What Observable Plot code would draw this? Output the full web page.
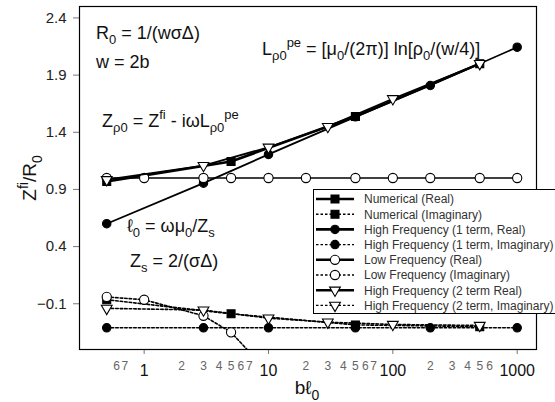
<!DOCTYPE html>
<html>
<head>
<meta charset="utf-8">
<script src="https://cdn.jsdelivr.net/npm/d3@7"></script>
<script src="https://cdn.jsdelivr.net/npm/@observablehq/plot@0.6"></script>
<style>
  html, body { margin: 0; padding: 0; background: #fff; overflow: hidden; }
  #chart { width: 555px; height: 402px; overflow: hidden; }
</style>
</head>
<body>
<div id="chart"></div>
<script>
// Normalised impedance Z^fi/R0 versus b·ℓ0, real and imaginary parts
const numX    = [0.5, 5, 50, 500];
const numReal = [0.97, 1.144, 1.538, 2.0];
const numImag = [-0.065, -0.188, -0.285, -0.30];

const hf1X    = [0.5, 3, 10, 50, 200, 1000];
const hf1Real = [0.60, 0.955, 1.206, 1.535, 1.809, 2.144];
const hf1Imag = [-0.31, -0.31, -0.31, -0.31, -0.31, -0.31];

const lfX     = [0.5, 1, 3, 5, 10, 20, 50, 100, 200, 500, 1000];
const lfReal  = [1.0, 1.0, 1.0, 1.0, 1.0, 1.0, 1.0, 1.0, 1.0, 1.0, 1.0];
const lfImagX = [0.5, 1, 3, 5, 10];
const lfImag  = [-0.04, -0.065, -0.205, -0.35, -0.70];

const hf2X    = [0.5, 3, 10, 30, 100, 500];
const hf2Real = [0.985, 1.109, 1.269, 1.45, 1.693, 2.0];
const hf2Imag = [-0.14, -0.155, -0.226, -0.261, -0.281, -0.29];

const yTicks     = [-0.1, 0.4, 0.9, 1.4, 1.9, 2.4];
const xMajor     = [1, 10, 100, 1000];
const xMinor     = [0.6, 0.7, 2, 3, 4, 5, 6, 7, 20, 30, 40, 50, 60, 70, 200, 300, 400, 500, 600];
const xMinorText = ["6", "7", "2", "3", "4", "5", "6", "7", "2", "3", "4", "5", "6", "7", "2", "3", "4", "5", "6"];

const legendLabels = [
  "Numerical (Real)",
  "Numerical (Imaginary)",
  "High Frequency (1 term, Real)",
  "High Frequency (1 term, Imaginary)",
  "Low Frequency (Real)",
  "Low Frequency (Imaginary)",
  "High Frequency (2 term Real)",
  "High Frequency (2 term, Imaginary)"
];

// downward-pointing triangle for the two-term series
const triangleDown = {
  draw(ctx, size) {
    const s = Math.sqrt(4 * size / Math.sqrt(3));
    const h = s * Math.sqrt(3) / 2;
    ctx.moveTo(-s / 2, -h / 3);
    ctx.lineTo(s / 2, -h / 3);
    ctx.lineTo(0, 2 * h / 3);
    ctx.closePath();
  }
};

const zip = (xs, ys) => xs.map((x, i) => ({x, y: ys[i]}));

const series = [
  {real: zip(numX, numReal), imag: zip(numX, numImag), symbol: "square", fill: "black", r: 4.5, width: 2.6},
  {real: zip(hf1X, hf1Real), imag: zip(hf1X, hf1Imag), symbol: "circle", fill: "black", r: 4.2, width: 1.8},
  {real: zip(lfX, lfReal), imag: zip(lfImagX, lfImag), symbol: "circle", fill: "white", r: 4.6, width: 1.3},
  {real: zip(hf2X, hf2Real), imag: zip(hf2X, hf2Imag), symbol: triangleDown, fill: "white", r: 4.0, width: 1.8}
];

const DASH = "2.5,2";
const marks = [];
for (const s of series) {
  marks.push(Plot.line(s.real, {x: "x", y: "y", stroke: "black", strokeWidth: s.width, clip: true}));
  marks.push(Plot.line(s.imag, {x: "x", y: "y", stroke: "black", strokeWidth: 1.6, strokeDasharray: DASH, clip: true}));
  for (const d of [s.real, s.imag]) {
    marks.push(Plot.dot(d, {x: "x", y: "y", symbol: () => s.symbol, r: s.r, fill: s.fill,
      stroke: "black", strokeWidth: 1.1, clip: true}));
  }
}

const plot = Plot.plot({
  width: 555,
  height: 402,
  marginLeft: 79,
  marginRight: 19,
  marginTop: 6,
  marginBottom: 53,
  style: {fontFamily: "'Liberation Sans', Arial, sans-serif", background: "white"},
  x: {type: "log", domain: [0.302, 1430]},
  y: {domain: [-0.5, 2.5]},
  symbol: {type: "identity"},
  marks: [
    Plot.axisY({ticks: yTicks, tickFormat: d3.format(".1f"), tickSize: 6, tickPadding: 7,
      fontSize: 15, stroke: "#777", fill: "#222", label: null}),
    Plot.axisX({ticks: xMajor, tickFormat: d => String(d), tickSize: 5, tickPadding: 10,
      fontSize: 16, stroke: "#777", fill: "#111", label: null}),
    // intermediate decade labels, printed without tick marks
    Plot.text(xMinor, {x: d => d, text: (d, i) => xMinorText[i], frameAnchor: "bottom", dy: 20,
      fontSize: 12, fill: "#666"}),
    ...marks,
    Plot.frame({stroke: "black", strokeWidth: 1.2})
  ]
});

document.getElementById("chart").appendChild(plot);

const svg = d3.select(plot);
const FONT = "'Liberation Sans', Arial, sans-serif";

// text with sub/superscript runs
function rich(parent, x, y, parts, size, opts = {}) {
  const t = parent.append("text")
    .attr("x", x).attr("y", y)
    .attr("font-family", FONT)
    .attr("font-size", size)
    .attr("text-anchor", opts.anchor || "start")
    .attr("fill", opts.fill || "#111");
  if (opts.transform) t.attr("transform", opts.transform);
  const small = Math.round(size * 0.72);
  let shift = 0;
  for (const [str, kind] of parts) {
    const target = kind === "sub" ? size * 0.3 : kind === "sup" ? -size * 0.42 : 0;
    t.append("tspan")
      .attr("dy", target - shift)
      .attr("font-size", kind ? small : size)
      .text(str);
    shift = target;
  }
  return t;
}

// formulas
const F = 18;
rich(svg, 96, 39, [["R"], ["0", "sub"], [" = 1/(wσΔ)"]], F);
rich(svg, 96, 68, [["w = 2b"]], F);
rich(svg, 102, 127, [["Z"], ["ρ0", "sub"], [" = Z"], ["fi", "sup"], [" - iωL"], ["ρ0", "sub"], ["pe", "sup"]], F);
rich(svg, 262, 55, [["L"], ["ρ0", "sub"], ["pe", "sup"], [" = [μ"], ["0", "sub"], ["/(2π)] ln[ρ"], ["0", "sub"], ["/(w/4)]"]], F);
rich(svg, 127, 232, [["ℓ"], ["0", "sub"], [" = ωμ"], ["0", "sub"], ["/Z"], ["s", "sub"]], F);
rich(svg, 130, 267, [["Z"], ["s", "sub"], [" = 2/(σΔ)"]], F);

// axis titles
rich(svg, 307, 394, [["bℓ"], ["0", "sub"]], 19, {anchor: "middle"});
rich(svg, 0, 0, [["Z"], ["fi", "sup"], ["/R"], ["0", "sub"]], 19,
  {anchor: "middle", transform: "translate(36,178) rotate(-90)"});

// legend box
const lg = svg.append("g");
lg.append("rect").attr("x", 313.5).attr("y", 189.5).attr("width", 300).attr("height", 124)
  .attr("fill", "white").attr("stroke", "black").attr("stroke-width", 1);
const legendStyle = [
  {s: series[0], dash: false}, {s: series[0], dash: true},
  {s: series[1], dash: false}, {s: series[1], dash: true},
  {s: series[2], dash: false}, {s: series[2], dash: true},
  {s: series[3], dash: false}, {s: series[3], dash: true}
];
legendLabels.forEach((label, i) => {
  const cy = 199 + i * 15.2;
  const st = legendStyle[i];
  lg.append("line").attr("x1", 316).attr("x2", 354).attr("y1", cy).attr("y2", cy)
    .attr("stroke", "black")
    .attr("stroke-width", st.dash ? 1.4 : 2.6)
    .attr("stroke-dasharray", st.dash ? DASH : null);
  const sym = typeof st.s.symbol === "string"
    ? (st.s.symbol === "square" ? d3.symbolSquare : d3.symbolCircle)
    : st.s.symbol;
  lg.append("path")
    .attr("d", d3.symbol(sym, Math.PI * st.s.r * st.s.r)())
    .attr("transform", `translate(335,${cy})`)
    .attr("fill", st.s.fill).attr("stroke", "black").attr("stroke-width", 1.1);
  lg.append("text").attr("x", 364).attr("y", cy).attr("dy", "0.36em")
    .attr("text-anchor", "start")
    .attr("font-family", FONT).attr("font-size", 12).attr("fill", "#333")
    .text(label);
});
</script>
</body>
</html>
